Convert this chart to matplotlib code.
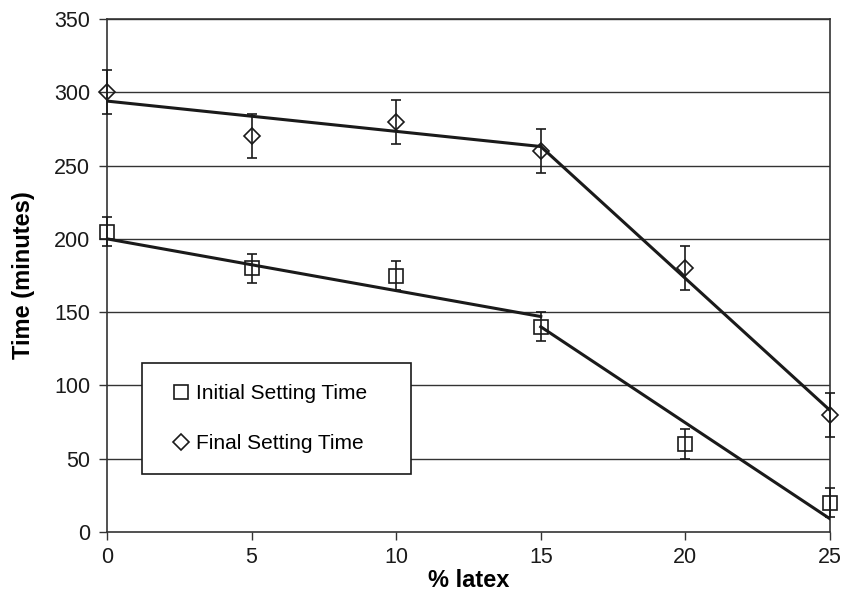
import matplotlib.pyplot as plt
from matplotlib.lines import Line2D

# data
latex = [0, 5, 10, 15, 20, 25]
initial_time = [205, 180, 175, 140, 60, 20]
initial_err = [10, 10, 10, 10, 10, 10]
final_time = [300, 270, 280, 260, 180, 80]
final_err = [15, 15, 15, 15, 15, 15]

# trend lines (two segments each)
initial_fit1_x = [0, 15]
initial_fit1_y = [200, 147]
initial_fit2_x = [15, 25]
initial_fit2_y = [140, 9]
final_fit1_x = [0, 15]
final_fit1_y = [294, 263]
final_fit2_x = [15, 25]
final_fit2_y = [263, 83]

yticks = [0, 50, 100, 150, 200, 250, 300, 350]
xticks = [0, 5, 10, 15, 20, 25]

plt.rcParams['font.family'] = ['Liberation Sans', 'DejaVu Sans']

fig = plt.figure(figsize=(8.44, 5.94), dpi=100)
ax = fig.add_axes([107 / 844, 62 / 594, 723 / 844, 513 / 594])

for y in yticks[1:]:
    ax.axhline(y, color='#333333', lw=1.0, zorder=1)

# trend lines
for xs, ys in [(initial_fit1_x, initial_fit1_y), (initial_fit2_x, initial_fit2_y),
               (final_fit1_x, final_fit1_y), (final_fit2_x, final_fit2_y)]:
    ax.plot(xs, ys, color='#1a1a1a', lw=2.2, zorder=3)

# data with error bars
ax.errorbar(latex, initial_time, yerr=initial_err, fmt='s', ms=10, mfc='none',
            mec='#1a1a1a', mew=1.2, ecolor='#1a1a1a', elinewidth=1.2, capsize=3.5,
            capthick=1.2, zorder=4, clip_on=False)
ax.errorbar(latex, final_time, yerr=final_err, fmt='D', ms=8, mfc='none',
            mec='#1a1a1a', mew=1.2, ecolor='#1a1a1a', elinewidth=1.2, capsize=3.5,
            capthick=1.2, zorder=4, clip_on=False)

ax.set_xlim(0, 25)
ax.set_ylim(0, 350)
ax.set_xticks(xticks)
ax.set_yticks(yticks)
ax.tick_params(axis='both', labelsize=15.5, direction='out', length=6, width=1,
               color='#333333', labelcolor='#1a1a1a')
ax.tick_params(axis='x', pad=4.5)
ax.tick_params(axis='y', pad=6)
for s in ax.spines.values():
    s.set_color('#333333')
    s.set_linewidth(1.2)

ax.set_xlabel('% latex', fontsize=17, fontweight='bold', labelpad=1)
ax.set_ylabel('Time (minutes)', fontsize=17, fontweight='bold', labelpad=14)

handles = [
    Line2D([], [], ls='none', marker='s', ms=10, mfc='none', mec='#1a1a1a', mew=1.2),
    Line2D([], [], ls='none', marker='D', ms=8, mfc='none', mec='#1a1a1a', mew=1.2),
]
leg = ax.legend(handles, ['Initial Setting Time', 'Final Setting Time'],
                loc='upper left', bbox_to_anchor=(0.048, 0.129, 0.372, 0.2),
                mode='expand', fontsize=15, frameon=True, fancybox=False,
                framealpha=1, edgecolor='#1a1a1a', labelspacing=1.5,
                borderpad=1.0, handlelength=1.82, handletextpad=-0.2,
                borderaxespad=0)
leg.get_frame().set_linewidth(1.2)
leg.set_zorder(5)

plt.savefig('out.png', dpi=100)
